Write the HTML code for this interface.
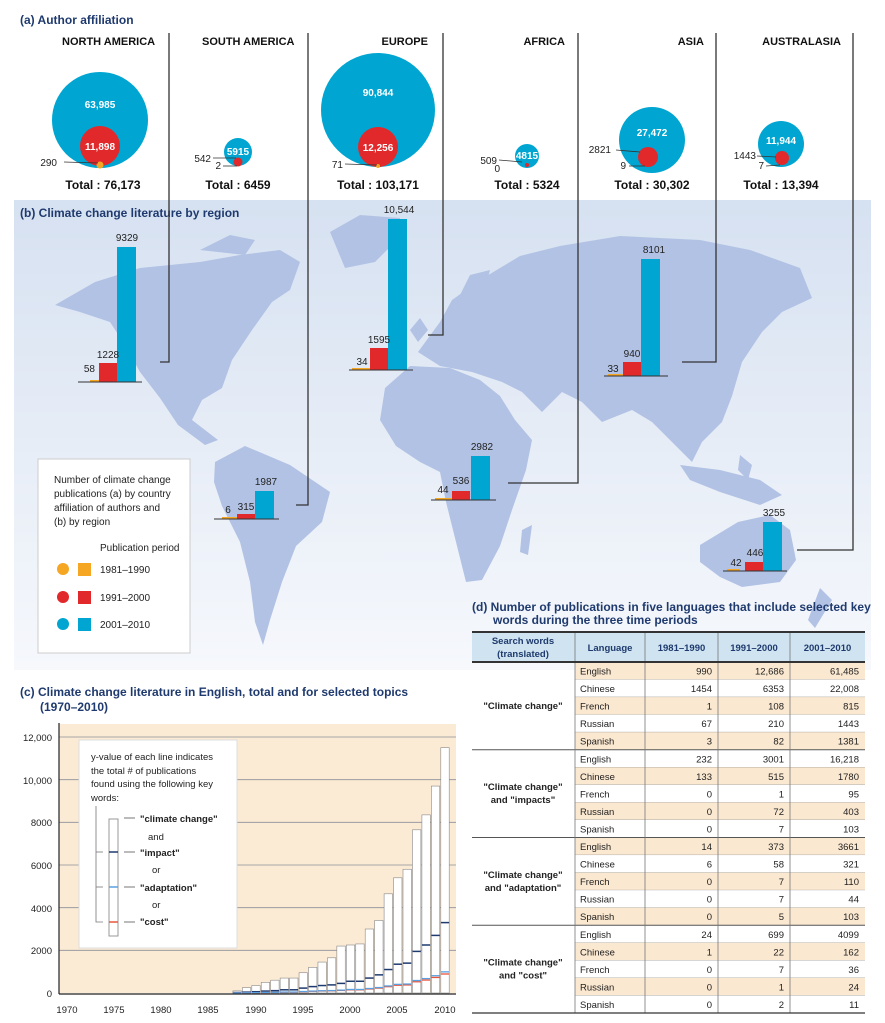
<!DOCTYPE html>
<html><head><meta charset="utf-8"><style>
body{margin:0;background:#fff;}
svg{display:block;font-family:"Liberation Sans",sans-serif;}
.t{font-weight:bold;fill:#1f3a6e;font-size:12px}
.h{font-weight:bold;font-size:11px;fill:#111}
.n{font-size:10px;fill:#222}
.w{font-size:10px;fill:#fff;font-weight:bold}
.c{font-size:9.5px;fill:#222}
</style></head><body>
<svg width="885" height="1023" viewBox="0 0 885 1023">
<defs>
<linearGradient id="bg" x1="0" y1="0" x2="0" y2="1"><stop offset="0" stop-color="#d6e1f1"/><stop offset="1" stop-color="#f6f8fc"/></linearGradient>
</defs>
<text x="20" y="24" class="t">(a)  Author affiliation</text>
<text x="62" y="45" class="h">NORTH AMERICA</text>
<text x="202" y="45" class="h">SOUTH AMERICA</text>
<text x="428" y="45" class="h" text-anchor="end">EUROPE</text>
<text x="565" y="45" class="h" text-anchor="end">AFRICA</text>
<text x="704" y="45" class="h" text-anchor="end">ASIA</text>
<text x="841" y="45" class="h" text-anchor="end">AUSTRALASIA</text>

<circle cx="100" cy="120" r="48" fill="#00a6d1"/>
<circle cx="100" cy="146" r="20" fill="#e1282b"/>
<circle cx="100" cy="165" r="3.5" fill="#f5a623"/>
<text x="100" y="108" class="w" text-anchor="middle">63,985</text>
<text x="100" y="150" class="w" text-anchor="middle">11,898</text>
<line x1="64" y1="162" x2="98" y2="163" stroke="#333" stroke-width="0.8"/>
<text x="57" y="166" class="n" text-anchor="end">290</text>
<text x="103" y="189" class="h" text-anchor="middle" style="font-size:12px">Total : 76,173</text>

<circle cx="238" cy="152" r="14" fill="#00a6d1"/>
<circle cx="238" cy="162" r="4.5" fill="#e1282b"/>
<text x="238" y="155" class="w" text-anchor="middle">5915</text>
<line x1="213" y1="158" x2="236" y2="158" stroke="#333" stroke-width="0.8"/>
<line x1="223" y1="166" x2="237" y2="166" stroke="#333" stroke-width="0.8"/>
<text x="211" y="162" class="n" text-anchor="end">542</text>
<text x="221" y="169" class="n" text-anchor="end">2</text>
<text x="238" y="189" class="h" text-anchor="middle" style="font-size:12px">Total : 6459</text>

<circle cx="378" cy="110" r="57" fill="#00a6d1"/>
<circle cx="378" cy="147" r="20" fill="#e1282b"/>
<circle cx="378" cy="166" r="2" fill="#f5a623"/>
<text x="378" y="96" class="w" text-anchor="middle">90,844</text>
<text x="378" y="151" class="w" text-anchor="middle">12,256</text>
<line x1="345" y1="164" x2="377" y2="165" stroke="#333" stroke-width="0.8"/>
<text x="343" y="168" class="n" text-anchor="end">71</text>
<text x="378" y="189" class="h" text-anchor="middle" style="font-size:12px">Total : 103,171</text>

<circle cx="527" cy="156" r="12" fill="#00a6d1"/>
<circle cx="527" cy="165" r="2" fill="#e1282b"/>
<text x="527" y="159" class="w" text-anchor="middle">4815</text>
<line x1="499" y1="160" x2="522" y2="162" stroke="#333" stroke-width="0.8"/>
<text x="497" y="164" class="n" text-anchor="end">509</text>
<text x="500" y="172" class="n" text-anchor="end">0</text>
<text x="527" y="189" class="h" text-anchor="middle" style="font-size:12px">Total : 5324</text>

<circle cx="652" cy="140" r="33" fill="#00a6d1"/>
<circle cx="648" cy="157" r="10" fill="#e1282b"/>
<text x="652" y="136" class="w" text-anchor="middle">27,472</text>
<line x1="616" y1="150" x2="640" y2="152" stroke="#333" stroke-width="0.8"/>
<line x1="629" y1="166" x2="645" y2="166" stroke="#333" stroke-width="0.8"/>
<text x="611" y="153" class="n" text-anchor="end">2821</text>
<text x="626" y="169" class="n" text-anchor="end">9</text>
<text x="652" y="189" class="h" text-anchor="middle" style="font-size:12px">Total : 30,302</text>

<circle cx="781" cy="144" r="23" fill="#00a6d1"/>
<circle cx="782" cy="158" r="7" fill="#e1282b"/>
<text x="781" y="144" class="w" text-anchor="middle">11,944</text>
<line x1="757" y1="156" x2="776" y2="157" stroke="#333" stroke-width="0.8"/>
<line x1="766" y1="166" x2="780" y2="165" stroke="#333" stroke-width="0.8"/>
<text x="756" y="159" class="n" text-anchor="end">1443</text>
<text x="764" y="169" class="n" text-anchor="end">7</text>
<text x="781" y="189" class="h" text-anchor="middle" style="font-size:12px">Total : 13,394</text>

<rect x="14" y="200" width="857" height="470" fill="url(#bg)"/>
<g fill="#b2c2e4">
<path d="M55,305 L95,282 L140,268 L200,262 L240,255 L280,250 L300,262 L290,290 L272,302 L252,330 L232,360 L222,388 L202,400 L192,420 L218,440 L205,445 L178,425 L160,398 L140,372 L125,345 L110,322 L80,312 Z"/>
<path d="M200,250 L230,235 L255,240 L245,255 Z"/>
<path d="M330,232 L360,215 L400,218 L402,235 L375,262 L345,268 Z"/>
<path d="M215,462 L245,446 L290,465 L330,492 L322,522 L296,546 L282,582 L270,620 L263,645 L255,622 L250,582 L240,542 L222,506 L214,482 Z"/>
<path d="M385,388 L410,366 L450,368 L480,380 L500,396 L515,420 L532,440 L526,470 L512,510 L500,546 L482,580 L466,582 L456,542 L446,502 L440,472 L420,462 L396,446 L380,420 Z"/>
<path d="M418,352 L440,322 L452,300 L480,280 L520,256 L560,246 L620,236 L700,240 L750,250 L800,268 L812,298 L782,312 L762,332 L742,362 L732,396 L722,422 L702,442 L692,462 L672,442 L652,422 L632,410 L602,422 L582,402 L562,392 L542,412 L522,392 L502,382 L472,372 L440,366 Z"/>
<path d="M455,305 L470,275 L490,270 L482,300 L470,315 Z"/>
<path d="M410,330 L420,318 L428,330 L418,342 Z"/>
<path d="M680,465 L720,470 L760,480 L782,495 L760,505 L720,492 L690,480 Z"/>
<path d="M740,455 L752,465 L748,480 L738,470 Z"/>
<path d="M700,545 L738,522 L770,515 L790,530 L796,560 L780,582 L742,587 L720,577 L700,562 Z"/>
<path d="M820,588 L832,600 L815,628 L808,620 Z"/>
<path d="M522,530 L532,525 L528,555 L520,552 Z"/>
</g>
<text x="20" y="217" class="t" style="font-size:12px">(b) Climate change literature by region</text>

<g stroke="#333" stroke-width="1.3" fill="none">
<polyline points="169,33 169,362 160,362"/>
<polyline points="308,33 308,505 296,505"/>
<polyline points="443,33 443,335 428,335"/>
<polyline points="578,33 578,483 508,483"/>
<polyline points="716,33 716,362 682,362"/>
<polyline points="853,33 853,550 797,550"/>
</g>

<g>
<rect x="90" y="380" width="9" height="2" fill="#f5a623"/><rect x="99" y="363" width="18" height="19" fill="#e1282b"/><rect x="117" y="247" width="19" height="135" fill="#00a6d1"/>
<line x1="78" y1="382" x2="142" y2="382" stroke="#333"/>
<text x="95" y="372" class="n" text-anchor="end">58</text><text x="108" y="358" class="n" text-anchor="middle">1228</text><text x="127" y="241" class="n" text-anchor="middle">9329</text>

<rect x="352" y="368" width="18" height="2" fill="#f5a623"/><rect x="370" y="348" width="18" height="22" fill="#e1282b"/><rect x="388" y="219" width="19" height="151" fill="#00a6d1"/>
<line x1="349" y1="370" x2="413" y2="370" stroke="#333"/>
<text x="362" y="365" class="n" text-anchor="middle">34</text><text x="379" y="343" class="n" text-anchor="middle">1595</text><text x="399" y="213" class="n" text-anchor="middle">10,544</text>

<rect x="608" y="374" width="15" height="2" fill="#f5a623"/><rect x="623" y="362" width="18" height="14" fill="#e1282b"/><rect x="641" y="259" width="19" height="117" fill="#00a6d1"/>
<line x1="604" y1="376" x2="668" y2="376" stroke="#333"/>
<text x="613" y="372" class="n" text-anchor="middle">33</text><text x="632" y="357" class="n" text-anchor="middle">940</text><text x="654" y="253" class="n" text-anchor="middle">8101</text>

<rect x="222" y="517" width="15" height="2" fill="#f5a623"/><rect x="237" y="514" width="18" height="5" fill="#e1282b"/><rect x="255" y="491" width="19" height="28" fill="#00a6d1"/>
<line x1="214" y1="519" x2="279" y2="519" stroke="#333"/>
<text x="228" y="513" class="n" text-anchor="middle">6</text><text x="246" y="510" class="n" text-anchor="middle">315</text><text x="266" y="485" class="n" text-anchor="middle">1987</text>

<rect x="435" y="498" width="17" height="2" fill="#f5a623"/><rect x="452" y="491" width="18" height="9" fill="#e1282b"/><rect x="471" y="456" width="19" height="44" fill="#00a6d1"/>
<line x1="431" y1="500" x2="496" y2="500" stroke="#333"/>
<text x="443" y="493" class="n" text-anchor="middle">44</text><text x="461" y="484" class="n" text-anchor="middle">536</text><text x="482" y="450" class="n" text-anchor="middle">2982</text>

<rect x="727" y="569" width="13" height="2" fill="#f5a623"/><rect x="745" y="562" width="18" height="9" fill="#e1282b"/><rect x="763" y="522" width="19" height="49" fill="#00a6d1"/>
<line x1="723" y1="571" x2="787" y2="571" stroke="#333"/>
<text x="736" y="566" class="n" text-anchor="middle">42</text><text x="755" y="556" class="n" text-anchor="middle">446</text><text x="774" y="516" class="n" text-anchor="middle">3255</text>
</g>

<rect x="38" y="459" width="152" height="194" fill="#fff" stroke="#ccc"/>
<text class="n" font-size="9.5"><tspan x="54" y="483">Number of climate change</tspan><tspan x="54" y="497">publications (a) by country</tspan><tspan x="54" y="511">affiliation of authors and</tspan><tspan x="54" y="525">(b) by region</tspan></text>
<text x="100" y="551" class="n" font-size="9.5">Publication period</text>
<circle cx="63" cy="569" r="6" fill="#f5a623"/><rect x="78" y="563" width="13" height="13" fill="#f5a623"/><text x="100" y="573" class="n" font-size="9.5">1981–1990</text>
<circle cx="63" cy="597" r="6" fill="#e1282b"/><rect x="78" y="591" width="13" height="13" fill="#e1282b"/><text x="100" y="601" class="n" font-size="9.5">1991–2000</text>
<circle cx="63" cy="624" r="6" fill="#00a6d1"/><rect x="78" y="618" width="13" height="13" fill="#00a6d1"/><text x="100" y="628" class="n" font-size="9.5">2001–2010</text>

<text class="t"><tspan x="20" y="696">(c)  Climate change literature in English, total and for selected topics</tspan><tspan x="40" y="711">(1970–2010)</tspan></text>
<rect x="59" y="724" width="397" height="269" fill="#fcebd4"/>
<g stroke="#8a8f9a" stroke-width="0.8">
<line x1="59" y1="737" x2="456" y2="737"/><line x1="59" y1="779.7" x2="456" y2="779.7"/><line x1="59" y1="822.3" x2="456" y2="822.3"/><line x1="59" y1="865" x2="456" y2="865"/><line x1="59" y1="907.7" x2="456" y2="907.7"/><line x1="59" y1="950.3" x2="456" y2="950.3"/>
</g>
<g class="c" text-anchor="end">
<text x="52" y="741" class="c">12,000</text><text x="52" y="784" class="c">10,000</text><text x="52" y="826" class="c">8000</text><text x="52" y="869" class="c">6000</text><text x="52" y="912" class="c">4000</text><text x="52" y="954" class="c">2000</text><text x="52" y="997" class="c">0</text>
</g>
<g id="bars"></g>
<line x1="59" y1="723" x2="59" y2="994" stroke="#222" stroke-width="1.2"/>
<line x1="59" y1="994" x2="456" y2="994" stroke="#222" stroke-width="1.2"/>
<g class="c" text-anchor="middle">
<text x="67" y="1013" class="c">1970</text><text x="114" y="1013" class="c">1975</text><text x="161" y="1013" class="c">1980</text><text x="208" y="1013" class="c">1985</text><text x="256" y="1013" class="c">1990</text><text x="303" y="1013" class="c">1995</text><text x="350" y="1013" class="c">2000</text><text x="397" y="1013" class="c">2005</text><text x="445" y="1013" class="c">2010</text>
</g>
<rect x="79" y="740" width="158" height="208" fill="#fff" stroke="#ddd"/>
<text class="c"><tspan x="91" y="760">y-value of each line indicates</tspan><tspan x="91" y="774">the total # of publications</tspan><tspan x="91" y="787">found using the following key</tspan><tspan x="91" y="801">words:</tspan></text>
<polyline points="96,806 96,922 103,922" fill="none" stroke="#777" stroke-width="0.8"/>
<line x1="96" y1="852" x2="103" y2="852" stroke="#777" stroke-width="0.8"/>
<line x1="96" y1="887" x2="103" y2="887" stroke="#777" stroke-width="0.8"/>
<rect x="109" y="819" width="9" height="117" fill="#fff" stroke="#999"/>
<line x1="109" y1="852" x2="118" y2="852" stroke="#1f3a6e" stroke-width="1.5"/>
<line x1="109" y1="887" x2="118" y2="887" stroke="#5aa0e0" stroke-width="1.5"/>
<line x1="109" y1="922" x2="118" y2="922" stroke="#e8553d" stroke-width="1.5"/>
<g stroke="#555" stroke-width="0.8"><line x1="124" y1="818" x2="135" y2="818"/><line x1="124" y1="852" x2="135" y2="852"/><line x1="124" y1="887" x2="135" y2="887"/><line x1="124" y1="922" x2="135" y2="922"/></g>
<g><text x="140" y="822" class="c" font-weight="bold">"climate change"</text><text x="140" y="856" class="c" font-weight="bold">"impact"</text><text x="140" y="891" class="c" font-weight="bold">"adaptation"</text><text x="140" y="925" class="c" font-weight="bold">"cost"</text></g>
<text x="148" y="840" class="c">and</text><text x="152" y="873" class="c">or</text><text x="152" y="908" class="c">or</text>

<text class="t"><tspan x="472" y="611">(d)  Number of publications in five languages that include selected key</tspan><tspan x="493" y="624">words during the three time periods</tspan></text>
<g id="tbl"></g>
</svg>
<script>
var NS="http://www.w3.org/2000/svg";
function el(p,t,a,txt){var e=document.createElementNS(NS,t);for(var k in a)e.setAttribute(k,a[k]);if(txt!=null)e.textContent=txt;p.appendChild(e);return e;}
var g=document.getElementById("bars");
var tot=[100,250,350,500,600,700,700,950,1200,1450,1650,2200,2250,2300,3000,3400,4650,5400,5800,7650,8350,9700,11500];
var imp=[20,40,60,90,110,150,150,230,300,350,380,450,550,550,700,850,1100,1350,1400,1950,2250,2700,3300];
function Y(v){return 993-v*0.021333;}
for(var i=0;i<tot.length;i++){var yr=1988+i;var cx=67+(yr-1970)*9.45;
el(g,"rect",{x:cx-4.2,y:Y(tot[i]),width:8.4,height:993-Y(tot[i]),fill:"#fff",stroke:"#888","stroke-width":0.6});
el(g,"line",{x1:cx-4.2,x2:cx+4.2,y1:Y(imp[i]),y2:Y(imp[i]),stroke:"#1f3a6e","stroke-width":1.5});
el(g,"line",{x1:cx-4.2,x2:cx+4.2,y1:Y(imp[i]*0.27),y2:Y(imp[i]*0.27),stroke:"#e8553d","stroke-width":1.3});
el(g,"line",{x1:cx-4.2,x2:cx+4.2,y1:Y(imp[i]*0.3),y2:Y(imp[i]*0.3),stroke:"#5aa0e0","stroke-width":1.3});}
var t=document.getElementById("tbl");
var cx=[472,575,645,718,790,865];
el(t,"rect",{x:472,y:632,width:393,height:30,fill:"#cfe4f0"});
var hdr=["Language","1981–1990","1991–2000","2001–2010"];
el(t,"text",{x:523,y:644,"text-anchor":"middle","font-size":"9.5","font-weight":"bold",fill:"#1f3a6e"},"Search words");
el(t,"text",{x:523,y:657,"text-anchor":"middle","font-size":"9.5","font-weight":"bold",fill:"#1f3a6e"},"(translated)");
for(var j=0;j<4;j++)el(t,"text",{x:(cx[j+1]+cx[j+2])/2,y:651,"text-anchor":"middle","font-size":"9.5","font-weight":"bold",fill:"#1f3a6e"},hdr[j]);
var data=[[["English",990,"12,686","61,485"],["Chinese",1454,6353,"22,008"],["French",1,108,815],["Russian",67,210,1443],["Spanish",3,82,1381]],
[["English",232,3001,"16,218"],["Chinese",133,515,1780],["French",0,1,95],["Russian",0,72,403],["Spanish",0,7,103]],
[["English",14,373,3661],["Chinese",6,58,321],["French",0,7,110],["Russian",0,7,44],["Spanish",0,5,103]],
[["English",24,699,4099],["Chinese",1,22,162],["French",0,7,36],["Russian",0,1,24],["Spanish",0,2,11]]];
var labs=[["\"Climate change\""],["\"Climate change\"","and \"impacts\""],["\"Climate change\"","and \"adaptation\""],["\"Climate change\"","and \"cost\""]];
var rh=17.55,y0=662;
for(var b=0;b<4;b++){for(var r=0;r<5;r++){var k=b*5+r;var y=y0+k*rh;
var beige=(b%2==0)?(r%2==0):(r%2==1);
el(t,"rect",{x:575,y:y,width:290,height:rh,fill:beige?"#fbe8d0":"#fff"});
var row=data[b][r];
el(t,"text",{x:580,y:y+12.5,"font-size":"9.5",fill:"#222"},row[0]);
for(var c=1;c<4;c++)el(t,"text",{x:cx[c+2]-6,y:y+12.5,"font-size":"9.5",fill:"#222","text-anchor":"end"},String(row[c]));
el(t,"line",{x1:575,x2:865,y1:y+rh,y2:y+rh,stroke:"#888","stroke-width":0.6});}
var my=y0+b*5*rh+2.5*rh;var L=labs[b];
for(var q=0;q<L.length;q++)el(t,"text",{x:523,y:my+3+(q-(L.length-1)/2)*13,"text-anchor":"middle","font-size":"9.5","font-weight":"bold",fill:"#222"},L[q]);
if(b>0)el(t,"line",{x1:472,x2:865,y1:y0+b*5*rh,y2:y0+b*5*rh,stroke:"#555","stroke-width":1});}
for(var c=1;c<5;c++)el(t,"line",{x1:cx[c],x2:cx[c],y1:632,y2:1013,stroke:"#777","stroke-width":0.8});
el(t,"line",{x1:472,x2:865,y1:632,y2:632,stroke:"#333","stroke-width":2});
el(t,"line",{x1:472,x2:865,y1:662,y2:662,stroke:"#333","stroke-width":2});
el(t,"line",{x1:472,x2:865,y1:1013,y2:1013,stroke:"#333","stroke-width":1.2});
</script>
</body></html>
